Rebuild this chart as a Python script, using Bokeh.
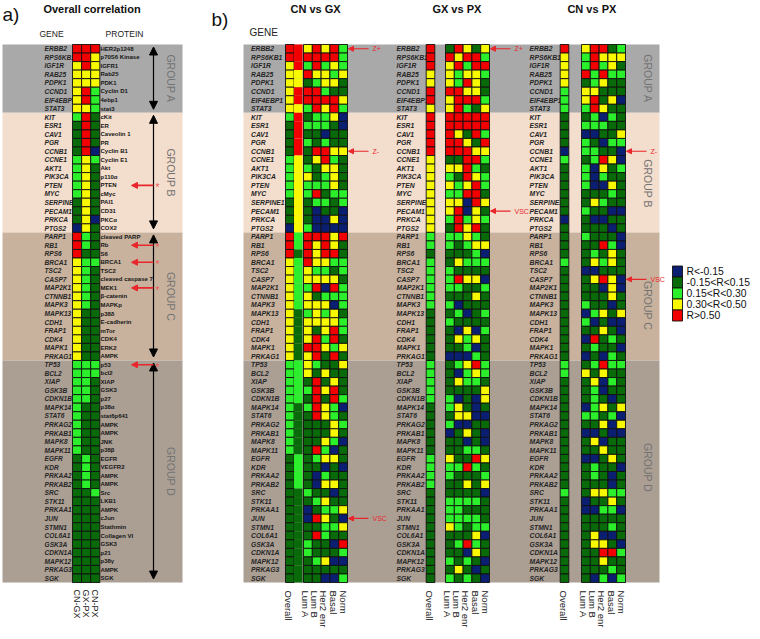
import numpy as np
from bokeh.plotting import figure
from bokeh.models import Range1d, Arrow, NormalHead
from bokeh.embed import file_html
from bokeh.resources import INLINE
from bokeh.core.properties import value

# ---------------- data ----------------
genes = ["ERBB2", "RPS6KB1", "IGF1R", "RAB25", "PDPK1", "CCND1", "EIF4EBP1", "STAT3",
         "KIT", "ESR1", "CAV1", "PGR", "CCNB1", "CCNE1", "AKT1", "PIK3CA", "PTEN", "MYC",
         "SERPINE1", "PECAM1", "PRKCA", "PTGS2",
         "PARP1", "RB1", "RPS6", "BRCA1", "TSC2", "CASP7", "MAP2K1", "CTNNB1", "MAPK3",
         "MAPK13", "CDH1", "FRAP1", "CDK4", "MAPK1", "PRKAG1",
         "TP53", "BCL2", "XIAP", "GSK3B", "CDKN1B", "MAPK14", "STAT6", "PRKAG2", "PRKAB1",
         "MAPK8", "MAPK11", "EGFR", "KDR", "PRKAA2", "PRKAB2", "SRC", "STK11", "PRKAA1",
         "JUN", "STMN1", "COL6A1", "GSK3A", "CDKN1A", "MAPK12", "PRKAG3", "SGK"]
proteins = ["HER2p1248", "p70S6 Kinase", "IGFR1", "Rab25", "PDK1", "Cyclin D1", "4ebp1", "stat3",
            "cKit", "ER", "Caveolin 1", "PR", "Cyclin B1", "Cyclin E1", "Akt", "p110\u03b1", "PTEN",
            "cMyc", "PAI1", "CD31", "PKC\u03b1", "COX2",
            "cleaved PARP", "Rb", "S6", "BRCA1", "TSC2", "cleaved caspase 7", "MEK1", "\u03b2-catenin",
            "MAPKp", "p38\u03b4", "E-cadherin", "mTor", "CDK4", "ERK2", "AMPK",
            "p53", "bcl2", "XIAP", "GSK3", "p27", "p38\u03b1", "stat6p641", "AMPK", "AMPK", "JNK",
            "p38\u03b2", "EGFR", "VEGFR2", "AMPK", "AMPK", "Src", "LKB1", "AMPK", "cJun", "Stathmin",
            "Collagen VI", "GSK3", "p21", "p38\u03b3", "AMPK", "SGK"]
group_names = ["GROUP A", "GROUP B", "GROUP C", "GROUP D"]
group_sizes = [8, 14, 15, 26]

class_codes = ["B", "D", "G", "Y", "R"]
class_labels = ["R<-0.15", "-0.15<R<0.15", "0.15<R<0.30", "0.30<R<0.50", "R>0.50"]
class_colors = ["#0b1f72", "#086a08", "#2bef2b", "#f8f800", "#f20000"]

pair_labels = ["CN-GX", "GX-PX", "CN-PX"]
subtypes = ["Lum A", "Lum B", "Her2 enr", "Basal", "Norm"]

overall_cn_gx = list("RRYYYYYY" "GDDDDGGGGGDDDB" "RRRYYYYYYYYYYYY" "GGGGGGGGGGGDDDDDDDDDDDDDDD")
overall_gx_px = list("RRRYYRRY" "RRRRRYYYYYYYYY" "GGDGGGGGGDDDDDD" "GGGGGDDDDDDGGGGDDDDDDDDDDD")
overall_cn_px = list("RYYYYGGG" "DDDDBGDDDDDDBD" "DDDGDDDDDDDDDDD" "GGDDDDDDDDDDDDDGDDDDDDDDDD")

# subtype columns: Lum A, Lum B, Her2 enr, Basal, Norm
sub_cn_gx = ["YRYRG", "RRRRG", "GRGYG", "RYYGY", "DGYYD", "RRGDD", "RRRRY", "GRYRG",
             "DGGYB", "GGGDB", "DDBDD", "GDGDD", "DRRYY", "DYRGD", "GDYYD", "YDGYD", "GGGYD",
             "GRDGG", "DGGDG", "DBDDB", "DBBYB", "GBBBB",
             "RRRYR", "RYRYD", "RYRRD", "RYYGG", "YGGDG", "YYYYD", "GRBRG", "YDGGG", "YYYBG",
             "GYGYD", "YYYYG", "YDYRG", "YRGRD", "RRYGY", "YRDRD",
             "YGDDY", "YDYDD", "DRDYD", "GRYRD", "DRDRG", "GRYGB", "DRYGD", "DDDYG", "DDDYD",
             "DDYGB", "DRGBD", "DGYYD", "DDBDB", "DBGDD", "DBYYD", "GDDBD", "DGYDD", "BDGGY",
             "BRYDB", "DDGGY", "DRGDD", "GDDBR", "GDDDG", "DGYBB", "DDDDD", "DDBBG"]
sub_gx_px = ["DRYDY", "RYRRG", "YRGRR", "YGYYG", "YGRYD", "RRYYD", "YRRRG", "YRGDY",
             "RRRRR", "RRRRR", "RYDRG", "RRYDR", "RRRYY", "DDRRG", "YYRGD", "GDRYG", "YGYRG",
             "GGRRD", "YYBRY", "YRBYD", "GRGYG", "DRYRD",
             "GGYGD", "GDGYY", "DDDGB", "DYGGG", "GDDDD", "GRYYB", "GGDDG", "DDDYD", "GBDDD",
             "DGBDG", "GDDDD", "DBYBG", "DYGYD", "DDGBD", "BBBGD",
             "DGYRG", "DBGYG", "DYGGD", "DDDDY", "GBDBY", "GYDBD", "DYYBB", "GBBDD", "BDYDB",
             "DDBDB", "DDGGD", "YDDRY", "GGRGD", "GDDDG", "DDYDY", "DDDDB", "GGGGD", "GGDDD",
             "GGGGD", "YGDGG", "DDDYB", "DGRGD", "DDBYD", "GDGDB", "DYDBD", "GDGDB"]
sub_cn_px = ["YRRDG", "GRYYY", "GRGYD", "RGRGG", "DGYDD", "YYDDD", "YRDYB", "GRYDD",
             "DGBGD", "GGGDD", "BBDDY", "GDBGG", "GGDDB", "DGRYB", "GBYDG", "GBGDD", "GBBYD",
             "DDDGD", "DYGDD", "GDDBB", "DBBDD", "DDDBD",
             "GDDDB", "DDRGB", "DGDYD", "DYGYD", "BBDDD", "DYRYB", "DDBYB", "DDDYD", "GDDBD",
             "BGYDY", "GBDBB", "DDYDB", "BRDGD", "DGDDB", "BDBGD",
             "DGRGG", "YDYDD", "DYBGD", "DGBDD", "DGDBD", "BGYDY", "GGDGB", "DDYBY", "BBDBB",
             "DYBDD", "DDYDD", "BBDYD", "DGDDB", "DGDBD", "DDDBD", "DYYGG", "BDDYD", "BBGGB",
             "DDDDD", "DDDGD", "DYBBD", "DYYDB", "DDRRG", "DDYDD", "DDDGD", "DBGBG"]

a_marked = ["PTEN", "RB1", "BRCA1", "MAP2K1", "TP53"]
b_marks = [("CN vs GX", "ERBB2", "Z+"), ("CN vs GX", "CCNB1", "Z-"), ("CN vs GX", "JUN", "VSC"),
           ("GX vs PX", "ERBB2", "Z+"), ("GX vs PX", "PECAM1", "VSC"),
           ("CN vs PX", "CCNB1", "Z-"), ("CN vs PX", "CASP7", "VSC")]

# ---------------- layout ----------------
H = 639
def Y(s):
    return H - s

FONT = value("Liberation Sans")
ROW_TOP, ROW_H = 44.0, 8.54
n = len(genes)
row_c = [ROW_TOP + (i + 0.5) * ROW_H for i in range(n)]
row_t = [ROW_TOP + i * ROW_H for i in range(n)]
row_b = [ROW_TOP + (i + 1) * ROW_H for i in range(n)]
band_cols = ["#a9a9a9", "#f3ddcc", "#c8b29d", "#ab9f94"]
edges = np.concatenate([[0], np.cumsum(group_sizes)])
band_top = [ROW_TOP + e * ROW_H for e in edges[:-1]]
band_bot = [ROW_TOP + e * ROW_H for e in edges[1:]]

p = figure(width=752, height=631, x_range=Range1d(0, 752), y_range=Range1d(8, 639),
           output_backend="svg", toolbar_location=None, min_border=0,
           x_axis_type=None, y_axis_type=None)
p.grid.visible = False
p.outline_line_color = None
p.background_fill_color = "white"
p.border_fill_color = "white"

def col_of(c):
    return class_colors[class_codes.index(c)]

def cells(left, width, codes, border=True):
    p.quad(left=[left] * n, right=[left + width] * n,
           top=[Y(t) for t in row_t], bottom=[Y(b) for b in row_b],
           fill_color=[col_of(c) for c in codes],
           line_color="#111111" if border else None, line_width=0.9)

def texts(xs, ys, labels, size, style="normal", align="left", baseline="middle",
          color="#1e1e1e", angle=0.0):
    p.text(x=xs, y=ys, text=labels, text_font=FONT, text_font_size=size,
           text_font_style=style, text_align=align, text_baseline=baseline,
           text_color=color, angle=angle)

# backgrounds
for x0, x1 in [(2, 182), (243, 659)]:
    p.quad(left=[x0] * 4, right=[x1] * 4, top=[Y(t) for t in band_top],
           bottom=[Y(b) for b in band_bot], fill_color=band_cols, line_color=None)

# ---------------- panel a ----------------
texts([2], [Y(3)], ["a)"], "19px", baseline="top", color="#111")
texts([91.5], [Y(8)], ["Overall correlation"], "11px", style="bold", align="center", color="#111")
texts([51], [Y(33)], ["GENE"], "8.5px", align="center", color="#222")
texts([124], [Y(33)], ["PROTEIN"], "8.5px", align="center", color="#222")
texts([44] * n, [Y(c) for c in row_c], genes, "6.6px", style="bold italic", color="#262626")
texts([100] * n, [Y(c) for c in row_c], proteins, "6px", style="bold", color="#161616")

A_LEFT, A_W = 72.0, 9.1
for k, codes in enumerate([overall_cn_gx, overall_gx_px, overall_cn_px]):
    cells(A_LEFT + k * A_W, A_W, codes)
texts([A_LEFT + (k + 0.5) * A_W for k in range(3)], [Y(589)] * 3, pair_labels, "9px",
      angle=-np.pi / 2, color="#222")

# group labels a
gl_y = [(t + b) / 2 for t, b in zip(band_top, band_bot)]
texts([170] * 4, [Y(v) for v in gl_y], group_names, "10.5px", align="center",
      angle=-np.pi / 2, color="#737373")

# black double arrows
for g in range(4):
    t = band_top[g] + 2.5
    b = band_bot[g] - 3.5
    p.add_layout(Arrow(x_start=153, x_end=153, y_start=Y(t), y_end=Y(b),
                       start=NormalHead(size=8, fill_color="black", line_color="black"),
                       end=NormalHead(size=8, fill_color="black", line_color="black"),
                       line_color="black", line_width=1.2))

# red arrows a
for gname in a_marked:
    yc = row_c[genes.index(gname)]
    p.add_layout(Arrow(x_start=153, x_end=131, y_start=Y(yc), y_end=Y(yc),
                       end=NormalHead(size=6, fill_color="#e8262b", line_color="#e8262b"),
                       line_color="#e8262b", line_width=1.6))
    texts([155], [Y(yc + 2.5)], ["*"], "10px", color="#e85a5a")

# ---------------- panel b ----------------
texts([211], [Y(8)], ["b)"], "19px", baseline="top", color="#111")
texts([249], [Y(32)], ["GENE"], "10px", color="#222")

panels = [
    dict(name="CN vs GX", lab=250.5, ov=285.0, extra=293.5, sub=303.0, overall=overall_cn_gx,
         subs=sub_cn_gx),
    dict(name="GX vs PX", lab=396.0, ov=425.7, extra=None, sub=445.0, overall=overall_gx_px,
         subs=sub_gx_px),
    dict(name="CN vs PX", lab=529.0, ov=559.7, extra=None, sub=581.0, overall=overall_cn_px,
         subs=sub_cn_px),
]
SW = 8.8
OW = 8.6
lab_off = [2.0, 10.6, 20.0, 30.0, 40.0]
for pn in panels:
    texts([(pn["ov"] + pn["sub"] + 5 * SW) / 2 - 1], [Y(8)], [pn["name"]], "11px",
          style="bold", align="center", color="#111")
    texts([pn["lab"]] * n, [Y(c) for c in row_c], genes, "6.8px", style="bold italic",
          color="#262626")
    cells(pn["ov"], OW, pn["overall"])
    if pn["extra"] is not None:
        cells(pn["extra"], 8.5, overall_gx_px, border=False)
    for j in range(5):
        cells(pn["sub"] + j * SW, SW, [s[j] for s in pn["subs"]])
    texts([pn["ov"] + OW / 2 - 1] + [pn["sub"] + o for o in lab_off], [Y(590)] * 6,
          ["Overall"] + subtypes, "9.5px", angle=-np.pi / 2, color="#222")

# red arrows b
for pname, gname, lab in b_marks:
    pn = [q for q in panels if q["name"] == pname][0]
    yc = row_c[genes.index(gname)]
    tip = pn["sub"] + 5 * SW + 1
    p.add_layout(Arrow(x_start=tip + 20, x_end=tip, y_start=Y(yc), y_end=Y(yc),
                       end=NormalHead(size=5, fill_color="#e8262b", line_color="#e8262b"),
                       line_color="#e8262b", line_width=1.2))
    texts([tip + 24], [Y(yc)], [lab], "7px", color="#e8262b")

# group labels b
glb_y = [78, 183, 305, 467]
texts([647] * 4, [Y(v) for v in glb_y], group_names, "10.5px", align="center",
      angle=-np.pi / 2, color="#737373")

# legend
LG_TOP, LG_H = 265.5, 11.0
p.quad(left=[672] * 5, right=[682] * 5,
       top=[Y(LG_TOP + k * LG_H) for k in range(5)],
       bottom=[Y(LG_TOP + (k + 1) * LG_H) for k in range(5)],
       fill_color=class_colors, line_color="#111111", line_width=0.9)
texts([686] * 5, [Y(LG_TOP + (k + 0.5) * LG_H) for k in range(5)], class_labels, "10.4px",
      color="#111")

open("out.html", "w").write(file_html(p, INLINE))
